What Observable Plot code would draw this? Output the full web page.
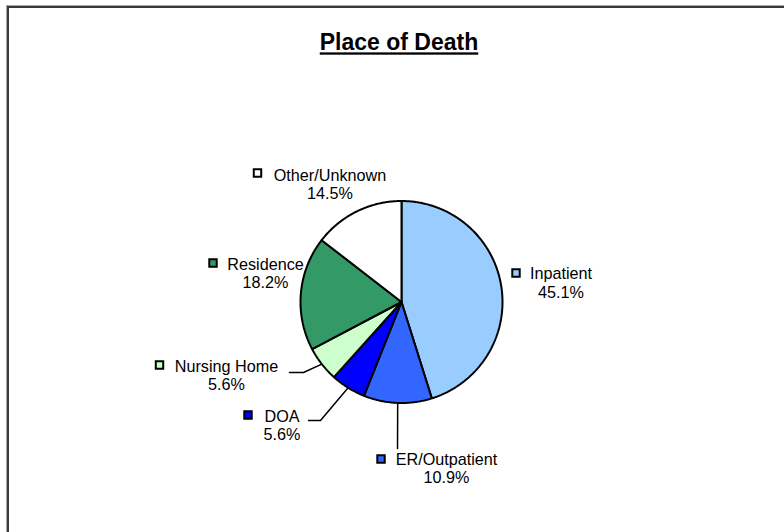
<!DOCTYPE html>
<html>
<head>
<meta charset="utf-8">
<script src="https://cdn.jsdelivr.net/npm/d3@7"></script>
<script src="https://cdn.jsdelivr.net/npm/@observablehq/plot@0.6"></script>
<style>
  html, body { margin: 0; padding: 0; background: #fff; }
  #wrap { position: relative; width: 784px; height: 532px; overflow: hidden; }
  #frame { position: absolute; left: 7px; top: 6px; width: 800px; height: 560px;
           border-top: 2px solid #3a3a3a; border-left: 2px solid #3a3a3a;
           box-shadow: -1px -1px 0 #aaa; }
  #chart { position: absolute; left: 0; top: 0; }
  .title-text { text-decoration: underline; text-decoration-thickness: 2.5px; }
</style>
</head>
<body>
<div id="wrap"><div id="frame"></div><div id="chart"></div></div>
<script>
// ---- data ----
const categories = ["Inpatient", "ER/Outpatient", "DOA", "Nursing Home", "Residence", "Other/Unknown"];
const percents   = [45.1, 10.9, 5.6, 5.6, 18.2, 14.5];
const colors     = ["#99CCFF", "#3366FF", "#0000FF", "#CCFFCC", "#339966", "#FFFFFF"];
const pctLabels  = percents.map(p => p.toFixed(1) + "%");
const title = "Place of Death";

// ---- layout (pixels) ----
const W = 784, H = 532;
const cx = 401, cy = 301.5, R = 101;
// label placement: name center x, name y, key square x, key y
const labelLayout = [
  {nx: 560.5, ny: 273.5, kx: 515.5, ky: 272.5},
  {nx: 446,   ny: 459,   kx: 380.5, ky: 458.5},
  {nx: 281.5, ny: 416,   kx: 247.5, ky: 414.5},
  {nx: 226,   ny: 366,   kx: 159,   ky: 364.5},
  {nx: 265,   ny: 264,   kx: 212.5, ky: 262.5},
  {nx: 329.5, ny: 175,   kx: 257,   ky: 172.5}
];
const pctDy = 18.5;
// leader line elbows (from slice edge outwards), null = none
const leaderElbows = [
  null,
  [[397, 448]],
  [[320, 420], [308, 420]],
  [[303, 372], [289, 372]],
  null,
  null
];

// ---- geometry from data ----
const arcs = d3.pie().sort(null).value(d => d)(percents);
const toXY = (a, r) => [cx + r * Math.sin(a), cy - r * Math.cos(a)];

const slicePts = [];
arcs.forEach((a, i) => {
  const name = categories[i];
  slicePts.push({name, x: cx, y: cy});
  const n = Math.max(8, Math.ceil((a.endAngle - a.startAngle) / 0.01));
  for (let k = 0; k <= n; k++) {
    const t = a.startAngle + (a.endAngle - a.startAngle) * k / n;
    const [x, y] = toXY(t, R);
    slicePts.push({name, x, y});
  }
  slicePts.push({name, x: cx, y: cy});
});

const leaderPts = [];
arcs.forEach((a, i) => {
  if (!leaderElbows[i]) return;
  const mid = (a.startAngle + a.endAngle) / 2;
  const [x, y] = toXY(mid, R);
  leaderPts.push({name: categories[i], x, y});
  leaderElbows[i].forEach(([ex, ey]) => leaderPts.push({name: categories[i], x: ex, y: ey}));
});

const labels = categories.map((name, i) => ({
  name, pct: pctLabels[i], color: colors[i], ...labelLayout[i]
}));

const font = "'Liberation Sans', Arial, Helvetica, sans-serif";

const chart = Plot.plot({
  width: W, height: H,
  margin: 0,
  style: {fontFamily: font, background: "transparent", overflow: "visible"},
  x: {domain: [0, W], range: [0, W], axis: null},
  y: {domain: [0, H], range: [0, H], axis: null},
  color: {domain: categories, range: colors},
  marks: [
    Plot.text([title], {x: () => 398.5, y: () => 42.5, text: d => d, fontSize: 23, fontWeight: "bold",
      fill: "black", textAnchor: "middle", lineAnchor: "middle", className: "title-text"}),
    Plot.line(leaderPts, {x: "x", y: "y", z: "name", stroke: "black", strokeWidth: 1.5, curve: "linear"}),
    Plot.line(slicePts, {x: "x", y: "y", z: "name", fill: "name", stroke: "black", strokeWidth: 2,
      strokeLinejoin: "miter", curve: "linear"}),
    Plot.dot(labels, {x: "kx", y: "ky", symbol: "square", r: 4.2, fill: "name", stroke: "black", strokeWidth: 2}),
    Plot.text(labels, {x: "nx", y: "ny", text: "name", fontSize: 16.2, fill: "black",
      textAnchor: "middle", lineAnchor: "middle"}),
    Plot.text(labels, {x: "nx", y: d => d.ny + pctDy, text: "pct", fontSize: 16.2, fill: "black",
      textAnchor: "middle", lineAnchor: "middle"})
  ]
});
document.getElementById("chart").appendChild(chart);
</script>
</body>
</html>
